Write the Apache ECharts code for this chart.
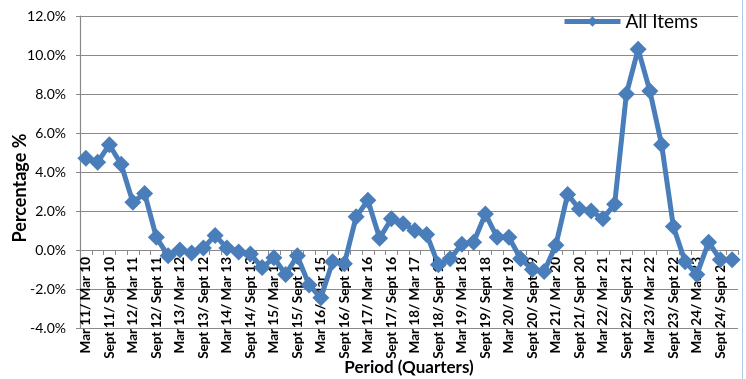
<!DOCTYPE html>
<html>
<head>
<meta charset="utf-8">
<script src="https://cdn.jsdelivr.net/npm/echarts@6/dist/echarts.min.js"></script>
<style>
  html, body { margin: 0; padding: 0; background: #ffffff; }
  #chart { width: 746px; height: 379px; }
</style>
</head>
<body>
<div id="chart"></div>
<script>
// Quarterly periods, each compared with the same quarter of the prior year
const categories = [
  "Mar 11/ Mar 10", "Jun 11/ Jun 10", "Sept 11/ Sept 10", "Dec 11/ Dec 10",
  "Mar 12/ Mar 11", "Jun 12/ Jun 11", "Sept 12/ Sept 11", "Dec 12/ Dec 11",
  "Mar 13/ Mar 12", "Jun 13/ Jun 12", "Sept 13/ Sept 12", "Dec 13/ Dec 12",
  "Mar 14/ Mar 13", "Jun 14/ Jun 13", "Sept 14/ Sept 13", "Dec 14/ Dec 13",
  "Mar 15/ Mar 14", "Jun 15/ Jun 14", "Sept 15/ Sept 14", "Dec 15/ Dec 14",
  "Mar 16/ Mar 15", "Jun 16/ Jun 15", "Sept 16/ Sept 15", "Dec 16/ Dec 15",
  "Mar 17/ Mar 16", "Jun 17/ Jun 16", "Sept 17/ Sept 16", "Dec 17/ Dec 16",
  "Mar 18/ Mar 17", "Jun 18/ Jun 17", "Sept 18/ Sept 17", "Dec 18/ Dec 17",
  "Mar 19/ Mar 18", "Jun 19/ Jun 18", "Sept 19/ Sept 18", "Dec 19/ Dec 18",
  "Mar 20/ Mar 19", "Jun 20/ Jun 19", "Sept 20/ Sept 19", "Dec 20/ Dec 19",
  "Mar 21/ Mar 20", "Jun 21/ Jun 20", "Sept 21/ Sept 20", "Dec 21/ Dec 20",
  "Mar 22/ Mar 21", "Jun 22/ Jun 21", "Sept 22/ Sept 21", "Dec 22/ Dec 21",
  "Mar 23/ Mar 22", "Jun 23/ Jun 22", "Sept 23/ Sept 22", "Dec 23/ Dec 22",
  "Mar 24/ Mar 23", "Jun 24/ Jun 23", "Sept 24/ Sept 23", "Dec 24/ Dec 23"
];

// Annual percentage change, all items
const allItems = [
  4.7, 4.5, 5.4, 4.4,
  2.45, 2.9, 0.65, -0.3,
  0.0, -0.15, 0.1, 0.75,
  0.1, -0.1, -0.2, -0.9,
  -0.4, -1.25, -0.3, -1.8,
  -2.45, -0.6, -0.7, 1.7,
  2.55, 0.6, 1.6, 1.35,
  1.0, 0.8, -0.75, -0.45,
  0.3, 0.4, 1.85, 0.65,
  0.65, -0.45, -1.0, -1.1,
  0.25, 2.85, 2.1, 2.0,
  1.6, 2.35, 8.0, 10.3,
  8.15, 5.4, 1.2, -0.6,
  -1.25, 0.4, -0.5, -0.5
];

// Value axis range
const yMin = -4;
const yMax = 12;
const yStep = 2;

const fontFamily = "Lato, 'Open Sans', 'DejaVu Sans', sans-serif";
const lineColor = "#4a7ebb";
const gridColor = "#8a8a8a";

const gridTop = 16;
const gridBottom = 51;
const chartHeight = 379;
// The category axis runs along the 0% line: lift it from the plot bottom by that distance
const plotHeight = chartHeight - gridTop - gridBottom;
const zeroLift = plotHeight * (0 - yMin) / (yMax - yMin);

const chart = echarts.init(document.getElementById("chart"), null, { renderer: "canvas" });

chart.setOption({
  backgroundColor: "#ffffff",
  animation: false,
  textStyle: { fontFamily: fontFamily },
  grid: { left: 80, right: 8, top: gridTop, bottom: gridBottom, containLabel: false, outerBoundsMode: "none" },
  legend: {
    data: ["All Items"],
    left: 562,
    top: 12,
    padding: 0,
    itemWidth: 56,
    itemHeight: 13,
    itemGap: 5,
    lineStyle: { width: 5 },
    textStyle: { fontSize: 19, color: "#000000", fontFamily: fontFamily, padding: [0, 0, 0, 0] }
  },
  xAxis: {
    type: "category",
    data: categories,
    boundaryGap: true,
    position: "bottom",
    offset: -zeroLift,
    axisLine: { onZero: false, lineStyle: { color: gridColor, width: 1.2 } },
    axisTick: { show: true, interval: 0, length: 5, lineStyle: { color: gridColor, width: 1 } },
    axisLabel: {
      interval: 1,
      rotate: 90,
      margin: 7,
      fontSize: 13.5,
      fontWeight: "bold",
      color: "#000000",
      fontFamily: fontFamily
    },
    splitLine: { show: false }
  },
  yAxis: {
    type: "value",
    min: yMin,
    max: yMax,
    interval: yStep,
    axisLine: { show: true, lineStyle: { color: gridColor, width: 1.2 } },
    axisTick: { show: true, length: 4, lineStyle: { color: gridColor, width: 1 } },
    axisLabel: {
      margin: 14,
      fontSize: 14,
      color: "#000000",
      fontFamily: fontFamily,
      formatter: function (v) { return v.toFixed(1) + "%"; }
    },
    splitLine: { show: true, lineStyle: { color: gridColor, width: 1.2 } }
  },
  series: [{
    name: "All Items",
    type: "line",
    data: allItems,
    symbol: "diamond",
    symbolSize: 17,
    showSymbol: true,
    showAllSymbol: true,
    lineStyle: { color: lineColor, width: 5 },
    itemStyle: { color: lineColor },
    clip: false,
    z: 3
  }],
  graphic: [
    {
      // Value axis title, centred on the chart height
      type: "text",
      x: 20,
      y: 188,
      rotation: Math.PI / 2,
      style: {
        text: "Percentage %",
        fontSize: 18,
        fontWeight: "bold",
        fontFamily: fontFamily,
        fill: "#000000",
        align: "center",
        verticalAlign: "middle"
      },
      silent: true
    },
    {
      // Category axis title below the period labels
      type: "text",
      x: 409,
      y: 368,
      style: {
        text: "Period (Quarters)",
        fontSize: 17,
        fontWeight: "bold",
        fontFamily: fontFamily,
        fill: "#000000",
        align: "center",
        verticalAlign: "middle"
      },
      silent: true
    },
    {
      type: "line",
      shape: { x1: 742.5, y1: 0, x2: 742.5, y2: 379 },
      style: { stroke: "#a9cbe8", lineWidth: 1 },
      silent: true
    }
  ]
});
</script>
</body>
</html>
